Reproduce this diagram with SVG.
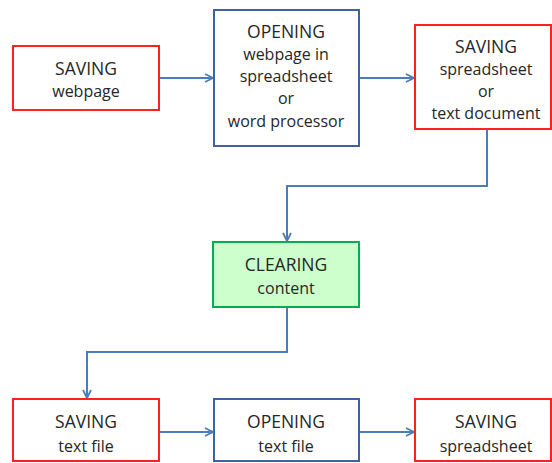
<svg xmlns="http://www.w3.org/2000/svg" width="552" height="463" viewBox="0 0 552 463">
  <defs>
    <marker id="arrow" viewBox="0 0 10 10" refX="9" refY="5" markerWidth="10" markerHeight="10" markerUnits="userSpaceOnUse" orient="auto">
      <path d="M1,1 L9,5 L1,9" fill="none" stroke="#4a7ebb" stroke-width="1.8"/>
    </marker>
  </defs>
  <style>
    .save { fill: #ffffff; stroke: #ff2020; stroke-width: 2; }
    .open { fill: #ffffff; stroke: #3c64a0; stroke-width: 2; }
    .clear { fill: #ccffcc; stroke: #00b050; stroke-width: 2; }
    .lbl { font-family: "Open Sans", "Liberation Sans", sans-serif; font-size: 16px; fill: #262626; text-anchor: middle; }
    .ttl { font-size: 17.5px; }
    .conn { fill: none; stroke: #4a7ebb; stroke-width: 2; marker-end: url(#arrow); }
  </style>
  <rect width="552" height="463" fill="#ffffff"/>

  <g id="connectors">
    <path class="conn" d="M159,78 H213"/>
    <path class="conn" d="M359,78 H414"/>
    <path class="conn" d="M487,129 V186 H287 V241"/>
    <path class="conn" d="M287,307 V352 H87 V398"/>
    <path class="conn" d="M159,432 H213"/>
    <path class="conn" d="M359,432 H414"/>
  </g>

  <g id="save-webpage">
    <rect class="save" x="13" y="46" width="146" height="64"/>
    <text class="lbl ttl" x="86" y="75">SAVING</text>
    <text class="lbl" x="86" y="97">webpage</text>
  </g>

  <g id="open-webpage">
    <rect class="open" x="214" y="10" width="145" height="136"/>
    <text class="lbl ttl" x="286" y="38">OPENING</text>
    <text class="lbl" x="286" y="60">webpage in</text>
    <text class="lbl" x="286" y="82">spreadsheet</text>
    <text class="lbl" x="286" y="104">or</text>
    <text class="lbl" x="286" y="127">word processor</text>
  </g>

  <g id="save-document">
    <rect class="save" x="415" y="25" width="136" height="104"/>
    <text class="lbl ttl" x="486" y="53">SAVING</text>
    <text class="lbl" x="486" y="75">spreadsheet</text>
    <text class="lbl" x="486" y="97">or</text>
    <text class="lbl" x="486" y="119">text document</text>
  </g>

  <g id="clear-content">
    <rect class="clear" x="213" y="242" width="146" height="65"/>
    <text class="lbl ttl" x="286" y="271">CLEARING</text>
    <text class="lbl" x="286" y="294">content</text>
  </g>

  <g id="save-textfile">
    <rect class="save" x="13" y="399" width="146" height="62"/>
    <text class="lbl ttl" x="86" y="428">SAVING</text>
    <text class="lbl" x="86" y="452">text file</text>
  </g>

  <g id="open-textfile">
    <rect class="open" x="214" y="399" width="145" height="62"/>
    <text class="lbl ttl" x="286" y="428">OPENING</text>
    <text class="lbl" x="286" y="452">text file</text>
  </g>

  <g id="save-spreadsheet">
    <rect class="save" x="415" y="399" width="136" height="62"/>
    <text class="lbl ttl" x="486" y="428">SAVING</text>
    <text class="lbl" x="486" y="452">spreadsheet</text>
  </g>
</svg>
